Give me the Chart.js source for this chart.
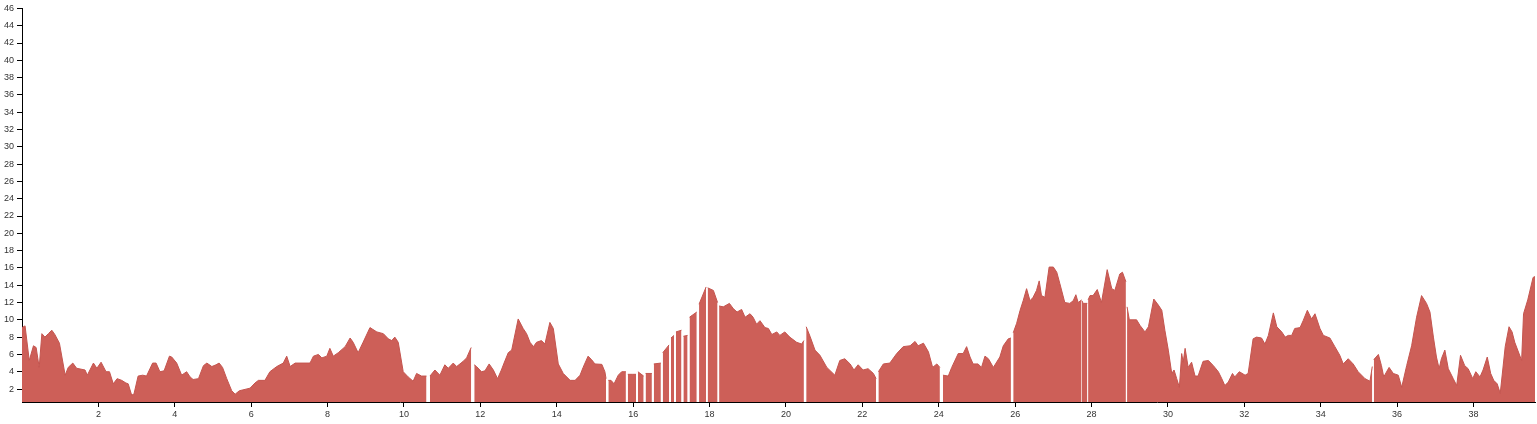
<!DOCTYPE html>
<html>
<head>
<meta charset="utf-8">
<script src="https://cdn.jsdelivr.net/npm/chart.js@4"></script>
<style>
  html, body { margin: 0; padding: 0; background: #fff; }
  #wrap { width: 1537px; height: 424px; }
</style>
</head>
<body>
<div id="wrap"><canvas id="c" width="1537" height="424"></canvas></div>
<script>
// distance along route (km) ; null value = gap in the record
const distances = [
0.00,0.08,0.19,0.30,0.37,0.45,0.52,0.60,0.69,0.78,0.86,0.98,1.13,1.21,1.33,1.43,1.65,1.71,1.87,1.96,
2.07,2.20,2.29,2.39,2.49,2.61,2.72,2.78,2.87,2.93,3.04,3.16,3.26,3.42,3.51,3.61,3.72,3.86,3.92,4.05,
4.18,4.31,4.40,4.48,4.62,4.75,4.84,4.97,5.08,5.16,5.25,5.36,5.49,5.58,5.69,5.97,6.10,6.19,6.36,6.49,
6.67,6.84,6.93,7.02,7.15,7.54,7.63,7.76,7.85,7.98,8.06,8.15,8.28,8.46,8.59,8.67,8.80,8.93,9.11,9.29,
9.46,9.59,9.68,9.76,9.85,9.98,10.11,10.24,10.33,10.46,10.59,10.635,10.68,10.81,10.94,11.07,11.16,11.29,11.38,11.55,
11.64,11.76,11.80,11.84,11.90,12.03,12.12,12.23,12.34,12.45,12.55,12.62,12.73,12.82,12.99,13.12,13.21,13.30,13.39,13.47,
13.60,13.69,13.82,13.91,14.04,14.17,14.35,14.48,14.61,14.69,14.82,14.91,15.00,15.18,15.26,15.29,15.32,15.35,15.42,15.50,
15.61,15.70,15.81,15.835,15.86,15.98,16.075,16.10,16.125,16.275,16.30,16.325,16.49,16.515,16.54,16.725,16.75,16.775,16.94,16.965,
16.99,17.07,17.095,17.12,17.265,17.29,17.315,17.425,17.45,17.475,17.665,17.695,17.725,17.91,17.93,17.95,18.10,18.21,18.23,18.25,
18.36,18.52,18.62,18.72,18.84,18.93,19.06,19.14,19.23,19.32,19.45,19.54,19.63,19.76,19.84,19.97,20.10,20.28,20.41,20.47,
20.50,20.53,20.63,20.76,20.89,21.07,21.28,21.41,21.54,21.68,21.78,21.89,22.02,22.15,22.29,22.36,22.39,22.42,22.55,22.72,
22.90,23.07,23.25,23.38,23.46,23.60,23.73,23.84,23.95,24.03,24.07,24.11,24.25,24.34,24.51,24.64,24.73,24.82,24.90,25.03,
25.12,25.21,25.30,25.43,25.60,25.69,25.82,25.89,25.92,25.95,26.04,26.13,26.21,26.30,26.39,26.47,26.56,26.63,26.69,26.78,
26.89,27.00,27.09,27.17,27.30,27.43,27.52,27.59,27.65,27.74,27.745,27.75,27.78,27.89,27.90,27.91,27.96,28.04,28.15,28.26,
28.41,28.53,28.61,28.74,28.81,28.90,28.915,28.93,28.99,29.18,29.27,29.40,29.49,29.63,29.75,29.84,29.92,30.01,30.10,30.16,
30.23,30.30,30.36,30.40,30.45,30.53,30.62,30.71,30.79,30.92,31.06,31.19,31.32,31.41,31.49,31.58,31.69,31.75,31.87,32.02,
32.10,32.23,32.32,32.45,32.54,32.63,32.76,32.85,32.98,33.07,33.15,33.24,33.32,33.46,33.54,33.65,33.76,33.85,33.98,34.07,
34.24,34.37,34.50,34.59,34.72,34.85,34.98,35.16,35.29,35.35,35.37,35.39,35.51,35.59,35.65,35.79,35.90,36.03,36.12,36.25,
36.38,36.51,36.64,36.77,36.86,36.95,37.03,37.10,37.16,37.25,37.34,37.47,37.56,37.66,37.77,37.86,37.98,38.06,38.17,38.25,
38.36,38.45,38.53,38.62,38.70,38.83,38.93,39.01,39.08,39.26,39.31,39.42,39.56,39.61
];
const values = [
9.1,9.3,5.3,7.0,6.8,4.5,8.4,8.0,8.4,8.8,8.3,7.3,3.6,4.5,5.0,4.4,4.2,3.6,5.0,4.4,
5.1,4.0,4.0,2.6,3.2,3.0,2.7,2.6,1.3,1.4,3.5,3.6,3.5,5.0,5.0,4.0,4.1,5.8,5.7,5.0,
3.6,4.0,3.4,3.1,3.2,4.7,5.0,4.6,4.8,5.0,4.5,3.2,1.8,1.4,1.8,2.1,2.7,3.0,3.0,4.0,
4.6,5.0,5.8,4.6,5.0,5.0,5.8,6.0,5.6,5.8,6.7,5.8,6.2,6.9,7.9,7.4,6.2,7.4,9.1,8.6,
8.4,7.8,7.6,8.0,7.4,4.0,3.4,2.9,3.8,3.5,3.5,null,3.5,4.2,3.6,4.8,4.4,5.0,4.6,5.2,
5.6,6.8,null,4.8,4.6,4.0,4.1,4.9,4.2,3.2,4.2,5.0,6.2,6.5,10.1,9.0,8.4,7.4,6.9,7.4,
7.6,7.2,9.7,9.0,4.9,3.8,3.0,3.0,3.6,4.5,5.8,5.4,4.9,4.85,4.0,3.2,null,3.0,3.0,2.6,
3.6,4.0,4.0,null,3.7,3.7,3.7,null,4.0,3.5,null,3.8,3.8,null,4.9,5.0,null,6.2,7.1,null,
7.9,8.2,null,8.6,8.8,null,8.1,8.2,null,10.3,10.9,null,11.8,13.8,null,13.7,13.4,12.0,null,11.6,
11.5,11.9,11.3,10.9,11.2,10.3,10.7,10.3,9.5,9.9,9.1,9.0,8.3,8.6,8.2,8.6,8.0,7.4,7.2,7.6,
null,9.2,8.1,6.5,5.9,4.5,3.6,5.3,5.5,4.9,4.2,4.8,4.2,4.35,3.8,3.2,null,4.0,4.9,5.0,
6.1,6.9,7.0,7.5,7.0,7.3,6.3,4.5,4.9,4.5,null,3.6,3.5,4.5,6.1,6.1,6.9,5.7,4.9,4.9,
4.5,5.8,5.5,4.5,5.7,7.0,7.8,7.9,null,8.5,9.6,11.1,12.2,13.6,12.2,12.6,13.4,14.5,12.8,12.6,
16.1,16.1,15.5,14.2,12.0,11.9,12.2,12.9,12.0,12.3,null,12.2,11.9,11.9,null,12.3,12.8,12.8,13.5,12.0,
15.8,13.6,13.4,15.3,15.5,14.4,null,11.5,10.0,10.0,9.35,8.6,9.2,12.4,11.7,11.1,8.8,6.5,3.8,4.2,
3.2,2.2,6.1,5.1,6.7,4.5,5.1,3.5,3.5,5.2,5.3,4.7,4.0,3.2,2.4,2.8,3.8,3.4,4.0,3.6,
3.8,7.8,8.0,7.9,7.2,8.2,10.8,9.2,8.6,8.0,8.2,8.2,9.0,9.1,9.9,11.1,10.1,10.7,9.0,8.2,
7.9,6.9,5.9,4.9,5.5,4.9,4.0,3.2,2.9,4.6,null,5.4,6.0,4.7,3.4,4.5,3.8,3.6,2.2,4.7,
7.0,10.3,12.8,11.9,10.9,8.0,5.7,4.35,5.5,6.5,4.35,3.2,2.4,5.9,4.7,4.35,3.2,4.0,3.4,4.2,
5.7,3.8,3.0,2.6,1.5,6.9,9.2,8.6,7.4,5.3,10.7,12.3,14.9,15.0
];
const xTickValues = [2,4,6,8,10,12,14,16,18,20,22,24,26,28,30,32,34,36,38];
const yTickValues = [2,4,6,8,10,12,14,16,18,20,22,24,26,28,30,32,34,36,38,40,42,44,46];
const xRange = [0, 39.61];
const yRange = [0.5, 46];

const points = distances.map((d, i) => ({ x: d, y: values[i] }));

const tickFont = { family: 'Liberation Sans, Arial, sans-serif', size: 9 };

new Chart(document.getElementById('c'), {
  type: 'line',
  data: {
    datasets: [{
      data: points,
      fill: 'start',
      backgroundColor: '#cd5f58',
      borderColor: '#c4554f',
      borderWidth: 1,
      pointRadius: 0,
      tension: 0,
      spanGaps: false
    }]
  },
  options: {
    responsive: false,
    animation: false,
    devicePixelRatio: 1,
    layout: { padding: { top: 8, right: 2, left: 0, bottom: 0 } },
    plugins: { legend: { display: false }, tooltip: { enabled: false } },
    scales: {
      x: {
        type: 'linear',
        min: xRange[0], max: xRange[1],
        afterBuildTicks: s => { s.ticks = xTickValues.map(v => ({ value: v })); },
        afterFit: s => { s.height = 22; },
        grid: { drawOnChartArea: false, drawTicks: true, tickLength: 5, color: '#000' },
        border: { display: true, color: '#000', width: 1 },
        ticks: { font: tickFont, color: '#333', padding: 2, maxRotation: 0, autoSkip: false }
      },
      y: {
        type: 'linear',
        min: yRange[0], max: yRange[1],
        afterBuildTicks: s => { s.ticks = yTickValues.map(v => ({ value: v })); },
        afterFit: s => { s.width = 22; },
        grid: { drawOnChartArea: false, drawTicks: true, tickLength: 5, color: '#000' },
        border: { display: true, color: '#000', width: 1 },
        ticks: { font: tickFont, color: '#333', padding: 3, autoSkip: false }
      }
    }
  }
});
</script>
</body>
</html>
